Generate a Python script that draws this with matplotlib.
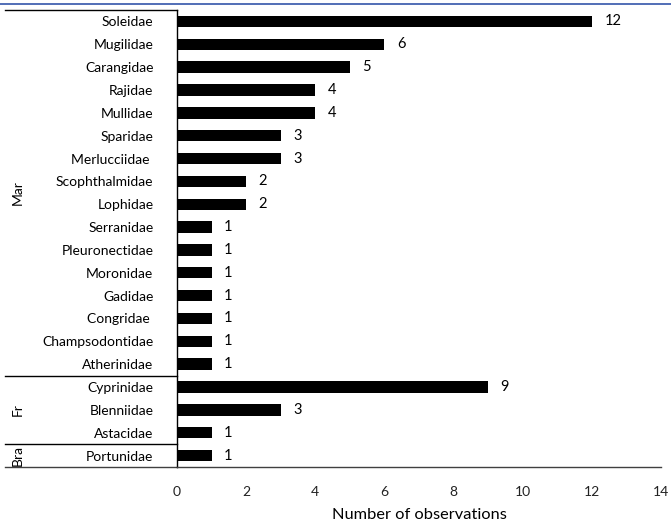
import matplotlib
matplotlib.use("Agg")
import matplotlib.pyplot as plt
from matplotlib.lines import Line2D
import matplotlib.transforms as mtransforms

families = ["Soleidae", "Mugilidae", "Carangidae", "Rajidae", "Mullidae", "Sparidae",
            "Merlucciidae ", "Scophthalmidae", "Lophidae", "Serranidae", "Pleuronectidae",
            "Moronidae", "Gadidae", "Congridae ", "Champsodontidae", "Atherinidae",
            "Cyprinidae", "Blenniidae", "Astacidae", "Portunidae"]
counts = [12, 6, 5, 4, 4, 3, 3, 2, 2, 1, 1, 1, 1, 1, 1, 1, 9, 3, 1, 1]
groups = ["Mar", "Fr", "Bra"]
group_sizes = [16, 3, 1]
xticks = [0, 2, 4, 6, 8, 10, 12, 14]

plt.rcParams['font.family'] = ['Lato', 'DejaVu Sans']
fig = plt.figure(figsize=(6.71, 5.26), dpi=100)
ax = fig.add_axes([0.2638, 0.1122, 0.7213, 0.8688])

pos = list(range(len(families)))
ax.barh(pos, counts, height=0.5, color="black")
ax.set_ylim(len(families) - 0.5, -0.5)
ax.set_xlim(0, 14)
ax.set_yticks(pos)
ax.set_yticklabels(families, fontsize=10)
ax.set_xticks(xticks)
ax.set_xticklabels([str(t) for t in xticks], fontsize=10, color="#222222")
ax.tick_params(axis='both', length=0)
ax.tick_params(axis='y', pad=17)
ax.tick_params(axis='x', pad=14)
ax.set_xlabel("Number of observations", fontsize=11.8, labelpad=7)

for s in ["top", "right"]:
    ax.spines[s].set_visible(False)
ax.spines["left"].set_linewidth(1.0)
ax.spines["bottom"].set_linewidth(1.0)
ax.spines["bottom"].set_color("#404040")

for p, c in zip(pos, counts):
    ax.annotate(str(c), (c, p), xytext=(9, 0), textcoords="offset points",
                va="center", ha="left", fontsize=10.5)

trans = mtransforms.blended_transform_factory(ax.transAxes, ax.transData)
xl = -0.355
ax.plot([xl, 0], [-0.5, -0.5], color="black", lw=1.0, transform=trans, clip_on=False)
ax.plot([xl, 0], [len(families) - 0.5] * 2, color="#404040", lw=1.0, transform=trans, clip_on=False)
start = 0
for g, n in zip(groups, group_sizes):
    center = start + (n - 1) / 2
    ax.text(-0.33, center, g, rotation=90, ha="center", va="center",
            fontsize=10, transform=trans)
    start += n
    if start < len(families):
        ax.plot([xl, 0], [start - 0.5] * 2, color="black", lw=1.0, transform=trans, clip_on=False)

fig.add_artist(Line2D([0, 1], [1 - 4 / 526] * 2, color="#3355aa", lw=1.2, transform=fig.transFigure))

fig.savefig("out.png", dpi=100)
